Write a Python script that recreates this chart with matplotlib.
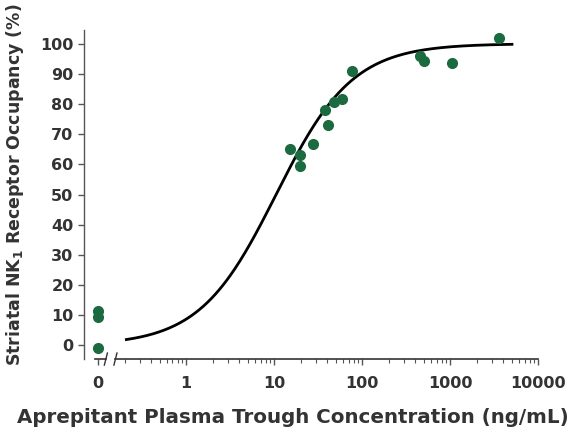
import numpy as np
import matplotlib
matplotlib.use("Agg")
import matplotlib.pyplot as plt
from matplotlib.ticker import FixedLocator, FixedFormatter

# placebo subjects (no drug) are drawn at the "0" slot of the log axis
zero_pos = 0.1
placebo_occ = [11.3, 9.5, -0.8]

# aprepitant plasma trough concentration (ng/mL) vs striatal NK1 occupancy (%)
conc = [15.2, 19.7, 19.4, 27.5, 38.0, 40.8, 47.2, 58.8, 76.0,
        447, 497, 1045, 3540]
occ = [65.0, 63.0, 59.4, 66.9, 77.9, 72.9, 80.6, 81.7, 90.9,
       96.0, 94.4, 93.6, 101.9]

# Emax model fit
emax = 100.0
ec50 = 10.5
fit_lo, fit_hi = 0.21, 5000

tick_vals = [zero_pos, 1, 10, 100, 1000, 10000]
tick_text = ["0", "1", "10", "100", "1000", "10000"]
minor_vals = [m * 10.0 ** d for d in range(-1, 4) for m in range(2, 10)]

green = "#1c6a40"
txt = "#333333"

plt.rcParams["font.family"] = ["DejaVu Sans"]
plt.rcParams["font.weight"] = "bold"
plt.rcParams["axes.labelweight"] = "bold"
plt.rcParams["mathtext.default"] = "bf"

fig = plt.figure(figsize=(5.79, 4.30), dpi=100)
ax = fig.add_axes([0.145, 0.165, 0.785, 0.765])

cfit = np.logspace(np.log10(fit_lo), np.log10(fit_hi), 300)
ax.plot(cfit, emax * cfit / (ec50 + cfit), color="black", lw=2.0, zorder=2)

ax.plot(conc, occ, "o", color=green, ms=7, zorder=3)
ax.plot([zero_pos] * len(placebo_occ), placebo_occ, "o", color=green, ms=7, zorder=3)

ax.set_xscale("log")
ax.set_xlim(0.0693, 10000)
ax.set_ylim(-4.5, 104.5)

ax.xaxis.set_major_locator(FixedLocator(tick_vals))
ax.xaxis.set_major_formatter(FixedFormatter(tick_text))
ax.xaxis.set_minor_locator(FixedLocator(minor_vals))
ax.xaxis.set_minor_formatter(FixedFormatter([]))
ax.set_yticks(range(0, 101, 10))

for s in ["top", "right"]:
    ax.spines[s].set_visible(False)
ax.spines["left"].set_color("#555555")
ax.spines["bottom"].set_color("#333333")
ax.spines["bottom"].set_bounds(0.158, 10000)
ax.spines["left"].set_linewidth(1.0)
ax.spines["bottom"].set_linewidth(1.2)

# broken-axis piece and the // marks
ax.plot([0.093, 0.123], [-4.5, -4.5], color="#333333", lw=1.2, clip_on=False)
for xb in (0.123, 0.158):
    ax.plot([xb * 0.96, xb * 1.04], [-6.5, -2.5], color="#333333", lw=1.0,
            clip_on=False)

ax.tick_params(axis="both", which="major", direction="out", length=4,
               width=1, colors="#555555", labelcolor=txt, labelsize=11.5)
ax.tick_params(axis="x", which="minor", direction="out", length=3,
               width=0.8, colors="#555555")
ax.tick_params(axis="x", which="major", pad=8)

ax.set_xlabel("Aprepitant Plasma Trough Concentration (ng/mL)",
              fontsize=14.3, color=txt)
ax.xaxis.set_label_coords(0.46, -0.148)
ax.set_ylabel("Striatal NK$_1$ Receptor Occupancy (%)",
              fontsize=12.5, color=txt)
ax.yaxis.set_label_coords(-0.128, 0.529)

fig.savefig("out.png", dpi=100)
